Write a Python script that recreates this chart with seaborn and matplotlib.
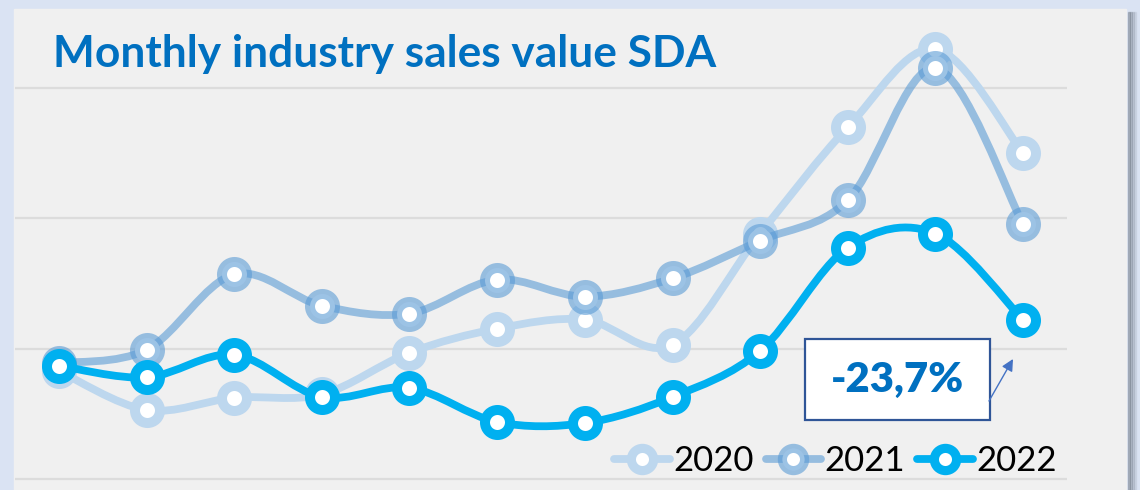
import numpy as np
import matplotlib
matplotlib.use("Agg")
import matplotlib.pyplot as plt
import seaborn as sns
import pandas as pd
from matplotlib.path import Path
from matplotlib.patches import PathPatch, Rectangle
from matplotlib.lines import Line2D

# ---------------- data ----------------
months = list(range(12))
sales_2020 = [41.5, 26.5, 31.2, 32.5, 48.5, 57.7, 61.2, 51.5, 94.2, 135.0, 165.0, 125.0]
sales_2021 = [44.5, 49.6, 78.5, 66.5, 63.5, 76.5, 70.0, 77.0, 91.5, 107.0, 157.7, 97.7]
sales_2022 = [43.5, 39.0, 47.7, 31.5, 35.0, 21.9, 21.5, 31.5, 49.2, 88.8, 94.2, 61.0]
series_labels = ["2020", "2021", "2022"]
title_text = "Monthly industry sales value SDA"
note_text = "-23,7%"
grid_values = [0, 50, 100, 150]

W, H = 1140, 490
sns.set_theme(style="white")
plt.rcParams['font.family'] = ['Lato', 'DejaVu Sans']

fig = plt.figure(figsize=(W / 100, H / 100), dpi=100)
fig.patch.set_facecolor('#dae3f3')

# shadow + panel
for i, a in enumerate([0.10, 0.18, 0.28, 0.40]):
    fig.patches.append(Rectangle(((1126 + 8 - 2 * i) / W, 0), 2 / W, (H - 12) / H,
                                 transform=fig.transFigure, color='#6b7480', alpha=a, zorder=0))
fig.patches.append(Rectangle((14 / W, 0), (1126 - 14) / W, (H - 9) / H,
                             transform=fig.transFigure, color='#f0f0f0', zorder=1))

ax = fig.add_axes([15 / W, 0, (1067 - 15) / W, 1])
ax.set_facecolor('none')
ax.set_zorder(2)
ax.set_xlim(-0.5, 11.5)
ax.set_ylim(-4.2, 183.8)
ax.set_yticks(grid_values)
ax.set_yticklabels([])
ax.set_xticks([])
ax.grid(axis='y', color='#dcdcdc', lw=1.6)
ax.grid(axis='x', visible=False)
for s in ax.spines.values():
    s.set_visible(False)
ax.tick_params(left=False, bottom=False)


def smooth_path(xs, ys):
    p = np.column_stack([xs, ys]).astype(float)
    n = len(p)
    verts = [p[0]]
    codes = [Path.MOVETO]
    for i in range(n - 1):
        pm = p[i - 1] if i > 0 else p[i]
        pp = p[i + 2] if i + 2 < n else p[i + 1]
        c1 = p[i] + (p[i + 1] - pm) / 6.0
        c2 = p[i + 1] - (pp - p[i]) / 6.0
        verts += [c1, c2, p[i + 1]]
        codes += [Path.CURVE4] * 3
    return Path(verts, codes)


c2020 = (0xbd / 255, 0xd7 / 255, 0xee / 255, 1.0)
c2021 = (0x5b / 255, 0x9b / 255, 0xd5 / 255, 0.6)
c2022 = (0x00 / 255, 0xb0 / 255, 0xf0 / 255, 1.0)
colors = [c2020, c2021, c2022]

LW = 5.6
MS = 18
MEW = 7.2

df = pd.DataFrame({"month": months * 3,
                   "value": sales_2020 + sales_2021 + sales_2022,
                   "year": sum([[lab] * 12 for lab in series_labels], [])})

for k, (lab, col) in enumerate(zip(series_labels, colors)):
    sub = df[df["year"] == lab]
    patch = PathPatch(smooth_path(sub["month"].values, sub["value"].values),
                      fill=False, edgecolor=col, lw=LW, capstyle='round',
                      joinstyle='round', zorder=3 + 2 * k)
    ax.add_patch(patch)
    sns.scatterplot(data=sub, x="month", y="value", ax=ax, color='white',
                    edgecolor=[col], s=MS ** 2, linewidth=MEW, zorder=4 + 2 * k,
                    legend=False)
ax.set_xlabel("")
ax.set_ylabel("")

# title
t = fig.text(53 / W, 1 - 67 / H, title_text, fontsize=30, fontweight='bold',
             color='#0070c0', va='baseline', ha='left')
fig.canvas.draw()
w = t.get_window_extent().width
t.set_fontsize(30 * 662 / w)

# legend
handles = [Line2D([], [], color=c, lw=LW, marker='o', markersize=MS - 2,
                  markerfacecolor='white', markeredgecolor=c, markeredgewidth=MEW - 0.6,
                  solid_capstyle='round')
           for c in colors]
leg = fig.legend(handles, series_labels, loc='center right',
                 bbox_to_anchor=(1057 / W, 1 - 461 / H), ncol=3, frameon=False,
                 fontsize=25, handlelength=1.6, handletextpad=0.1,
                 columnspacing=0.35, borderpad=0, borderaxespad=0)
for txt in leg.get_texts():
    txt.set_color('black')

# note box
fig.patches.append(Rectangle((805 / W, 1 - 420 / H), 185 / W, 81 / H,
                             transform=fig.transFigure, facecolor='white',
                             edgecolor='#2f5597', lw=1.6, zorder=5))
nt = fig.text(897 / W, 1 - 380 / H, note_text, fontsize=30, fontweight='heavy',
              color='#0070c0', ha='center', va='center', zorder=6)
fig.canvas.draw()
w = nt.get_window_extent().width
nt.set_fontsize(30 * 133 / w)

fig.add_artist(matplotlib.patches.FancyArrowPatch(
    (989 / W, 1 - 401 / H), (1013 / W, 1 - 359 / H), transform=fig.transFigure,
    arrowstyle='-|>,head_length=7,head_width=3.5', color='#4472c4', lw=1.0,
    mutation_scale=1, shrinkA=0, shrinkB=0, zorder=6))

fig.savefig("out.png", dpi=100, facecolor=fig.get_facecolor())
